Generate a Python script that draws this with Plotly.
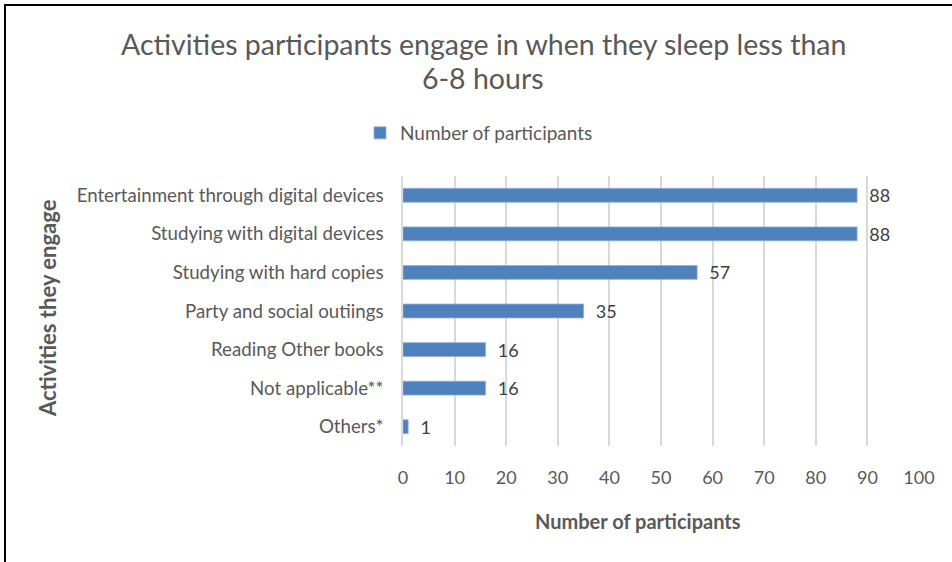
import plotly.graph_objects as go

categories = [
    "Entertainment through digital devices",
    "Studying with digital devices",
    "Studying with hard copies",
    "Party and social outiings",
    "Reading Other books",
    "Not applicable**",
    "Others*",
]
values = [88, 88, 57, 35, 16, 16, 1]
series_name = "Number of participants"
x_ticks = [0, 10, 20, 30, 40, 50, 60, 70, 80, 90, 100]
title_lines = ["Activities participants engage in when they sleep less than", "6-8 hours"]
x_title = "Number of participants"
y_title = "Activities they engage"

W, H = 952, 562
L, R, T, B = 403, 919, 176, 446
FONT = "Lato, sans-serif"
GREY = "#595959"

def px(xp):
    return (xp - L) / (R - L)

def py(yp):
    return (B - yp) / (B - T)

fig = go.Figure()
fig.add_trace(go.Bar(
    y=categories, x=values, orientation="h", name=series_name,
    marker=dict(color="#4f81bd", line=dict(color="#8eb0dc", width=0.8)),
    text=["\u00a0\u00a0" + str(v) for v in values], textposition="outside",
    textfont=dict(size=18, color="#404040", family=FONT),
    outsidetextfont=dict(size=18, color="#404040", family=FONT),
    constraintext="none",
    cliponaxis=False,
))

fig.update_layout(
    width=W, height=H,
    margin=dict(l=L, r=W - R, t=T, b=H - B, pad=0),
    paper_bgcolor="white", plot_bgcolor="white",
    bargap=0.64,
    uniformtext=dict(mode=False),
    font=dict(family=FONT, color=GREY, size=18),
    showlegend=True,
    legend=dict(orientation="h", x=px(360), xanchor="left", y=py(133), yanchor="middle",
                font=dict(size=19, color=GREY, family=FONT),
                itemwidth=30, bgcolor="rgba(0,0,0,0)"),
    xaxis=dict(range=[0, 100], tickvals=x_ticks, showgrid=True, gridcolor="#d9d9d9", gridwidth=1.5,
               zeroline=False, showline=False, ticks="", ticklabelstandoff=19,
               tickfont=dict(size=18, color=GREY, family=FONT), fixedrange=True),
    yaxis=dict(categoryorder="array", categoryarray=categories, autorange="reversed",
               showgrid=False, zeroline=False, showline=True, linecolor="#d9d9d9", linewidth=1.5,
               ticks="", ticklabelstandoff=14,
               tickfont=dict(size=18.7, color=GREY, family=FONT)),
    annotations=[
        dict(text=title_lines[0], xref="paper", yref="paper", x=px(483), y=py(44),
             xanchor="center", yanchor="middle", showarrow=False,
             font=dict(size=28.5, color=GREY, family=FONT)),
        dict(text=title_lines[1], xref="paper", yref="paper", x=px(483), y=py(78),
             xanchor="center", yanchor="middle", showarrow=False,
             font=dict(size=28.5, color=GREY, family=FONT)),
        dict(text="<b>" + x_title + "</b>", xref="paper", yref="paper",
             x=px(638), y=py(521), xanchor="center", yanchor="middle", showarrow=False,
             font=dict(size=20, color=GREY, family=FONT)),
        dict(text="<b>" + y_title + "</b>", xref="paper", yref="paper",
             x=px(47), y=py(308), xanchor="center", yanchor="middle", showarrow=False, textangle=-90,
             font=dict(size=22, color=GREY, family=FONT)),
    ],
    shapes=[
        dict(type="line", xref="paper", yref="paper", x0=px(4), x1=px(952), y0=py(5), y1=py(5),
             line=dict(color="black", width=2)),
        dict(type="line", xref="paper", yref="paper", x0=px(5), x1=px(5), y0=py(4), y1=py(562),
             line=dict(color="black", width=2)),
    ],
)

fig.write_html("out.html", config={"displayModeBar": False},
               post_script="document.body.style.margin='0';")
